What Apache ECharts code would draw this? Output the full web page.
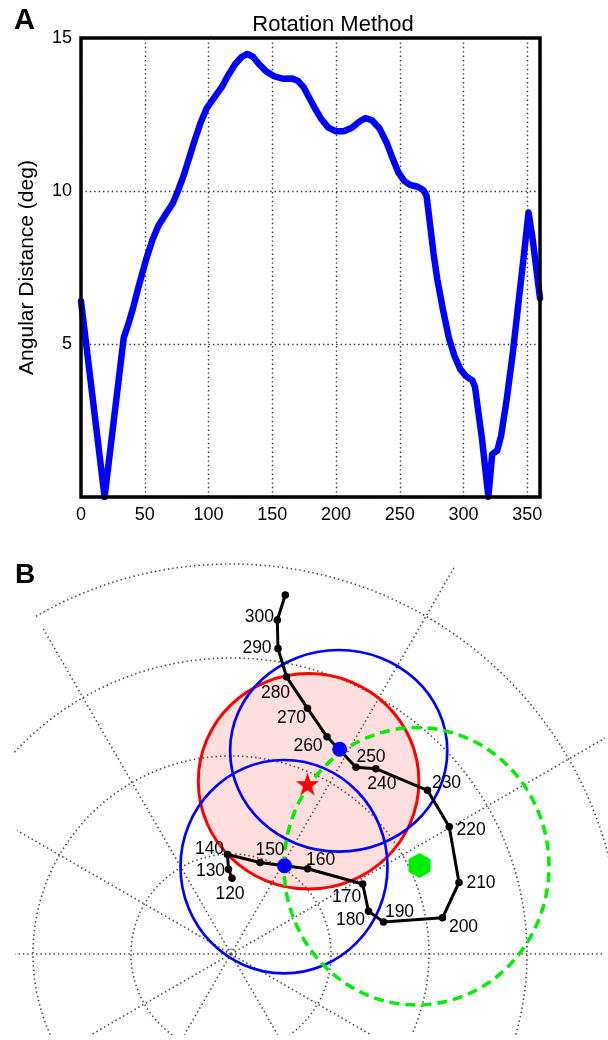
<!DOCTYPE html>
<html>
<head>
<meta charset="utf-8">
<script src="https://cdn.jsdelivr.net/npm/echarts@6/dist/echarts.min.js"></script>
<style>
  html, body { margin: 0; padding: 0; background: #fff; }
  #chart { width: 608px; height: 1040px; }
</style>
</head>
<body>
<div id="chart"></div>
<script>
const FONT = '"Liberation Sans", Arial, Helvetica, sans-serif';

// ---- panel A: angular distance vs rotation angle ----
const rotAngle = [0, 18.5, 33.5, 37.5, 41, 45, 51, 56, 60.5, 66.5, 72, 76, 80.5, 85, 89.5, 94, 98.5,
  104.5, 110.5, 115, 121, 126, 130.5, 135, 139.5, 145.5, 151.5, 158, 165, 170, 174.5, 179, 183.5,
  188, 194, 200, 206, 212.5, 218.5, 223, 228, 234, 240, 244.5, 249, 253.5, 258, 264, 268.5, 271,
  273.5, 276.5, 279.5, 284, 288.5, 293, 297.5, 302, 307, 309, 314.5, 319.5, 322.5, 326.5, 329.5,
  334, 338.5, 343, 347.5, 351, 354, 360];
const rotDist = [6.4, 0, 5.2, 5.7, 6.2, 6.85, 7.75, 8.4, 8.85, 9.25, 9.6, 10, 10.5, 11.1, 11.7, 12.25, 12.7,
  13.05, 13.4, 13.75, 14.15, 14.38, 14.48, 14.38, 14.15, 13.9, 13.75, 13.67, 13.68, 13.6, 13.4, 13.05, 12.7,
  12.38, 12.07, 11.95, 11.95, 12.07, 12.27, 12.38, 12.32, 12.05, 11.55, 11.05, 10.6, 10.33, 10.2, 10.14, 10.03, 9.84,
  9.0, 7.95, 7.1, 6.1, 5.2, 4.6, 4.17, 3.95, 3.8, 3.6, 1.9, 0, 1.4, 1.52, 2.0,
  3.23, 4.65, 6.3, 7.95, 9.3, 8.5, 6.5];
const xTickLabels = [0, 50, 100, 150, 200, 250, 300, 350];
const yTickLabels = [5, 10, 15];

// ---- panel B: projection, drawn in page-pixel units ----
const pathStep = [120, 130, 140, 150, 160, 170, 180, 190, 200, 210, 220, 230, 240, 250, 260, 270, 280, 290, 300, 310];
const pathX = [232, 228.5, 227.5, 260, 307.7, 362.7, 368.5, 383.5, 442.5, 459, 449.2, 427.5, 375.8, 356, 327, 307.5, 286.5, 278, 277.3, 285.3];
const pathY = [878.3, 869.3, 854.5, 862.5, 868.8, 884, 911.3, 922, 917.8, 882.5, 826.7, 790.3, 768.7, 767.3, 736.8, 708.3, 676.8, 648.6, 620, 595];

const poleXY = [231, 954];
const ringRadius = [100, 198, 296, 390];
const ringFrom = [-54, -24, -16, 12];
const ringTo = [234, 204, 137, 120];
const spokeAngle = [0, 30, 60, 120, 150, 180, 210, 240, 300, 330];
const spokeLength = [374, 432, 447, 377, 247, 216, 162, 93, 93, 162];

const circleX = [308.6, 338.7, 284, 416.5];
const circleY = [781.3, 750.8, 866.7, 866.3];
const circleRx = [110.3, 108.6, 103.5, 132.5];
const circleRy = [107.7, 100.8, 106.7, 138.7];
const blueDotX = [339.7, 284.5];
const blueDotY = [749.3, 865.7];
const starXY = [307.5, 784];
const hexXY = [419.5, 865.5];

// label placement around the path dots (pixels)
const labelShift = [[-2, 16], [-18, 2], [-18, -5], [10, -12], [13, -9], [-16, 13], [-18, 9], [16, -10],
  [21, 9], [22, 1], [22, 3], [19, -7], [6, 15], [15, -10], [-19, 9], [-16, 10], [-11, 16], [-21, 0], [-18, -3], [0, 0]];

const circleStyle = [
  { fill: 'rgba(255,0,0,0.13)', stroke: '#ff0000', lineWidth: 3 },
  { fill: 'none', stroke: '#0000ff', lineWidth: 2.7 },
  { fill: 'none', stroke: '#0000ff', lineWidth: 2.7 },
  { fill: 'none', stroke: '#00ee00', lineWidth: 3.5, lineDash: [10, 6] }
];
const gratStyle = { fill: 'none', stroke: '#444', lineWidth: 1.6, lineDash: [1.4, 3] };

const chart = echarts.init(document.getElementById('chart'));

const option = {
  animation: false,
  backgroundColor: '#fff',
  textStyle: { fontFamily: FONT },
  title: {
    text: 'Rotation Method',
    left: 328,
    top: 9,
    textAlign: 'center',
    textStyle: { fontFamily: FONT, fontSize: 22, fontWeight: 'normal', color: '#000' }
  },
  graphic: [
    { type: 'text', left: 14, top: 6, style: { text: 'A', font: 'bold 29px ' + FONT, fill: '#000' } },
    { type: 'text', left: 15, top: 561, style: { text: 'B', font: 'bold 28px ' + FONT, fill: '#000' } }
  ],
  grid: [
    { left: 81, top: 38, width: 459, height: 459, show: true, borderColor: '#000', borderWidth: 3.5, z: 5 },
    { left: 0, top: 540, width: 608, height: 500 }
  ],
  xAxis: [
    {
      gridIndex: 0, type: 'value', min: 0, max: 360, interval: 50,
      axisLine: { show: false }, axisTick: { show: false },
      axisLabel: {
        margin: 9, fontSize: 18, color: '#000', fontFamily: FONT, showMaxLabel: false,
        formatter: v => (xTickLabels.indexOf(v) >= 0 ? String(v) : '')
      },
      splitLine: { show: true, lineStyle: { color: '#333', width: 1.4, type: [1.4, 3] } }
    },
    { gridIndex: 1, type: 'value', min: 0, max: 608, show: false }
  ],
  yAxis: [
    {
      gridIndex: 0, type: 'value', min: 0, max: 15, interval: 5,
      name: 'Angular Distance (deg)', nameLocation: 'middle', nameGap: 43,
      nameTextStyle: { fontSize: 21, color: '#000', fontFamily: FONT },
      axisLine: { show: false }, axisTick: { show: false },
      axisLabel: {
        margin: 9, fontSize: 18, color: '#000', fontFamily: FONT,
        formatter: v => (yTickLabels.indexOf(v) >= 0 ? String(v) : '')
      },
      splitLine: { show: true, lineStyle: { color: '#333', width: 1.4, type: [1.4, 3] } }
    },
    { gridIndex: 1, type: 'value', min: 540, max: 1040, inverse: true, show: false }
  ],
  series: [
    {
      type: 'line', xAxisIndex: 0, yAxisIndex: 0,
      data: rotAngle.map((a, i) => [a, rotDist[i]]),
      symbol: 'none', smooth: false,
      lineStyle: { color: '#0000ff', width: 6.5, join: 'round', cap: 'round' },
      z: 3
    },
    // graticule rings
    {
      type: 'custom', xAxisIndex: 1, yAxisIndex: 1, z: 1, silent: true,
      data: ringRadius.map((r, i) => [poleXY[0], poleXY[1], i]),
      renderItem: (params, api) => {
        const i = params.dataIndex;
        const c = api.coord(poleXY);
        const s = Math.abs(api.size([ringRadius[i], ringRadius[i]])[0]);
        return {
          type: 'arc',
          shape: { cx: c[0], cy: c[1], r: s, startAngle: -ringTo[i] * Math.PI / 180, endAngle: -ringFrom[i] * Math.PI / 180, clockwise: true },
          style: gratStyle
        };
      }
    },
    // graticule spokes + small pole ring
    {
      type: 'custom', xAxisIndex: 1, yAxisIndex: 1, z: 1, silent: true,
      data: spokeAngle.map((a, i) => [poleXY[0], poleXY[1], i]),
      renderItem: (params, api) => {
        const i = params.dataIndex;
        const c = api.coord(poleXY);
        const L = Math.abs(api.size([spokeLength[i], spokeLength[i]])[0]);
        const t = spokeAngle[i] * Math.PI / 180;
        const children = [{
          type: 'line',
          shape: { x1: c[0], y1: c[1], x2: c[0] + L * Math.cos(t), y2: c[1] - L * Math.sin(t) },
          style: gratStyle
        }];
        if (i === 0) {
          children.push({ type: 'circle', shape: { cx: c[0], cy: c[1], r: 5 }, style: { fill: 'none', stroke: '#555', lineWidth: 0.8 } });
        }
        return { type: 'group', children: children };
      }
    },
    // confidence circles
    {
      type: 'custom', xAxisIndex: 1, yAxisIndex: 1, z: 2, silent: true,
      data: circleX.map((x, i) => [x, circleY[i]]),
      renderItem: (params, api) => {
        const i = params.dataIndex;
        const c = api.coord([circleX[i], circleY[i]]);
        const s = api.size([circleRx[i], circleRy[i]]);
        return {
          type: 'ellipse',
          shape: { cx: c[0], cy: c[1], rx: Math.abs(s[0]), ry: Math.abs(s[1]) },
          style: circleStyle[i]
        };
      }
    },
    // rotation path
    {
      type: 'line', xAxisIndex: 1, yAxisIndex: 1, z: 4,
      data: pathX.map((x, i) => ({
        value: [x, pathY[i]],
        label: { show: i < pathStep.length - 1, offset: labelShift[i] }
      })),
      symbol: 'circle', symbolSize: 7.5, showAllSymbol: true,
      lineStyle: { color: '#000', width: 3 },
      itemStyle: { color: '#000' },
      label: {
        show: true, position: 'inside', align: 'center', verticalAlign: 'middle',
        color: '#000', fontSize: 17.5, fontFamily: FONT, textBorderWidth: 0,
        formatter: p => String(pathStep[p.dataIndex])
      }
    },
    {
      type: 'scatter', xAxisIndex: 1, yAxisIndex: 1, z: 5,
      data: blueDotX.map((x, i) => [x, blueDotY[i]]),
      symbol: 'circle', symbolSize: 15, itemStyle: { color: '#0000ff', opacity: 1 }
    },
    {
      type: 'scatter', xAxisIndex: 1, yAxisIndex: 1, z: 5,
      data: [starXY],
      symbol: 'path://M50,0 L61.2,34.5 L97.6,34.5 L68.2,55.9 L79.4,90.5 L50,69.1 L20.6,90.5 L31.8,55.9 L2.4,34.5 L38.8,34.5 Z',
      symbolSize: 23, itemStyle: { color: '#ff0000', opacity: 1 }
    },
    {
      type: 'scatter', xAxisIndex: 1, yAxisIndex: 1, z: 5,
      data: [hexXY],
      symbol: 'path://M50,0 L93.3,25 L93.3,75 L50,100 L6.7,75 L6.7,25 Z',
      symbolSize: [22, 25], symbolKeepAspect: false, itemStyle: { color: '#00ee00', opacity: 1 }
    }
  ]
};

chart.setOption(option);
</script>
</body>
</html>
